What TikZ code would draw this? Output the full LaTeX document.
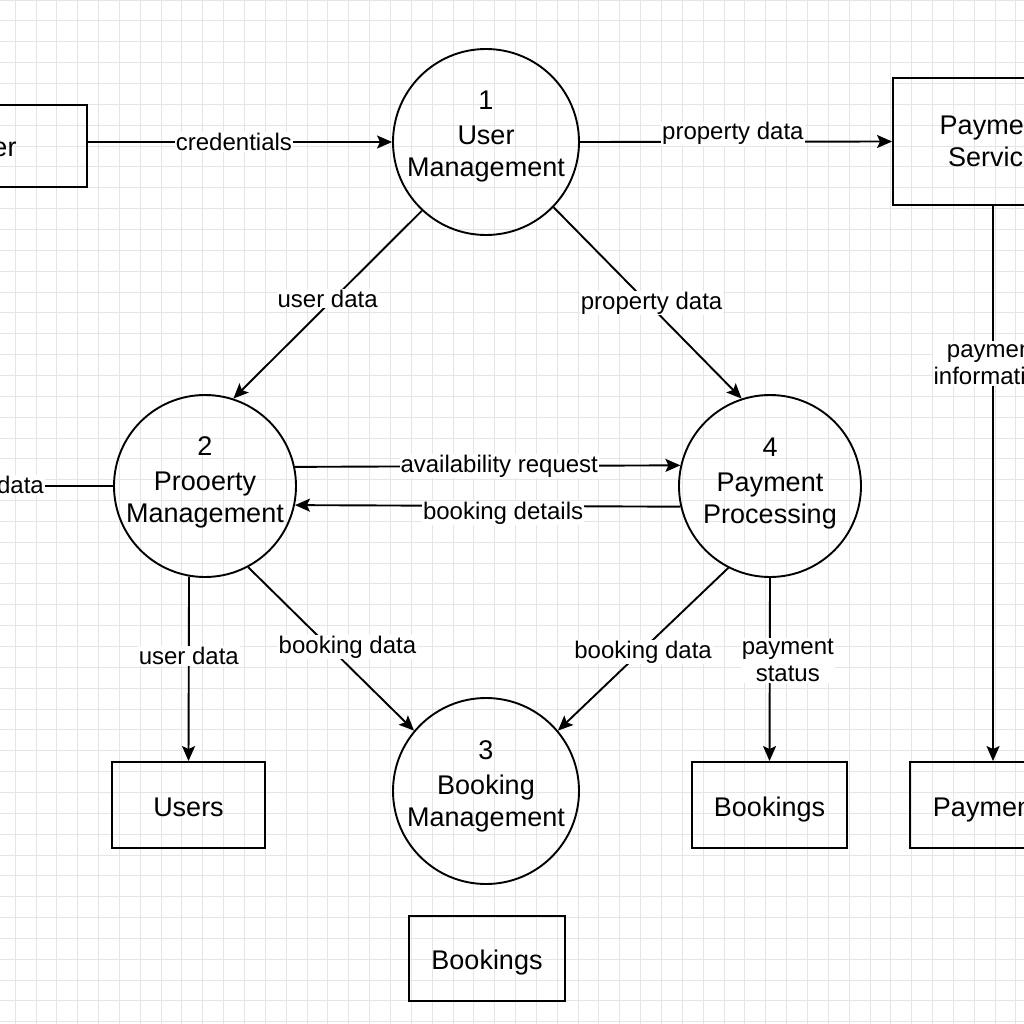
\documentclass[tikz,border=0pt]{standalone}
\usepackage{fontspec}
\setmainfont{Liberation Sans}
\usetikzlibrary{arrows.meta,calc}
\begin{document}
\begin{tikzpicture}[x=1pt,y=-1pt,
  gridline/.style={draw=black!10,line width=0.7pt},
  flow/.style={line width=1.9pt,-{Stealth[length=15pt,width=13pt,inset=3pt]}},
  plainflow/.style={line width=1.9pt},
  proc/.style={circle,draw,line width=1.9pt,inner sep=0pt},
  ptext/.style={align=center,inner sep=0pt,font=\fontsize{27}{32}\selectfont},
  store/.style={rectangle,draw,line width=1.9pt,inner sep=0pt,align=center,
    font=\fontsize{27}{32}\selectfont},
  onestore/.style={store,text height=22pt,text depth=0pt},
  lbl/.style={fill=white,inner sep=1pt,align=center,
    font=\fontsize{24}{27.5}\selectfont}]
\useasboundingbox (0,0) rectangle (1024,1024);
\clip (0,0) rectangle (1024,1024);
\fill[white] (0,0) rectangle (1024,1024);
\foreach \i in {0,...,49} {
  \draw[gridline] ({15+20.85*\i},0) -- ({15+20.85*\i},1024);
  \draw[gridline] (0,{20.85*\i}) -- (1024,{20.85*\i});
}
% process circles
\node[proc,minimum size=186pt] (c1) at (486,142) {};
\node[ptext] (c1t) at (486,137) {1\\[3pt]User\\Management};
\node[proc,minimum size=182pt] (c2) at (205,486) {};
\node[ptext] (c2t) at (205,482) {2\\[3pt]Prooerty\\Management};
\node[proc,minimum size=182pt] (c4) at (770,486) {};
\node[ptext] (c4t) at (770,484) {4\\[3pt]Payment\\Processing};
\node[proc,minimum size=186pt] (c3) at (486,791) {};
\node[ptext] (c3t) at (486,786) {3\\[3pt]Booking\\Management};
% stores / entities
\node[onestore,minimum width=198pt,minimum height=82pt] (user) at (-12,146) {User};
\node[store,minimum width=200pt,minimum height=127pt] (ps) at (993,141.5) {Payment\\Service};
\node[onestore,minimum width=153pt,minimum height=86pt] (users) at (188.5,805) {Users};
\node[onestore,minimum width=155pt,minimum height=86pt] (bk1) at (769.5,805) {Bookings};
\node[onestore,minimum width=166pt,minimum height=86pt] (pay) at (993,805) {Payments};
\node[onestore,minimum width=156pt,minimum height=85pt] (bk2) at (487,958.5) {Bookings};
\coordinate (dl) at (-20,486);
% connectors
\draw[flow] (user.east |- c1.west) -- node[lbl,pos=0.48] (l1) {credentials} (c1.west);
\draw[flow] (c1.east) -- node[lbl,pos=0.49,yshift=8] (l2) {property data} (ps.west);
\draw[flow] (ps.south) -- node[lbl,pos=0.28,yshift=-2] (l3) {payment\\information} (pay.north);
\draw[flow] (c1.-133) -- node[lbl,yshift=6] (l4) {user data} (c2.72);
\draw[flow] (c1.-44.6) -- node[lbl,xshift=4] (l5) {property data} (c4.108);
\draw[flow] (c2.12.7) -- node[lbl,pos=0.53] (l6) {availability request} (c4.167.3);
\draw[flow] (c4.-167.5) -- node[lbl,pos=0.46,yshift=-7] (l7) {booking details} (c2.-12.3);
\draw[plainflow] (dl) -- (c2.west);
\node[lbl,anchor=east] (l8) at (45,485) {data};
\draw[flow] (c2.-100) -- node[lbl,pos=0.43] (l9) {user data} (users.north);
\draw[flow] (c2.-62) -- node[lbl,pos=0.49,xshift=18] (l10) {booking data} (c3.140);
\draw[flow] (c4.-117) -- node[lbl,pos=0.5,yshift=-3] (l11) {booking data} (c3.40);
\draw[flow] (c4.south) -- node[lbl,pos=0.45,xshift=18] (l12) {payment\\status} (bk1.north);
\end{tikzpicture}
\end{document}
